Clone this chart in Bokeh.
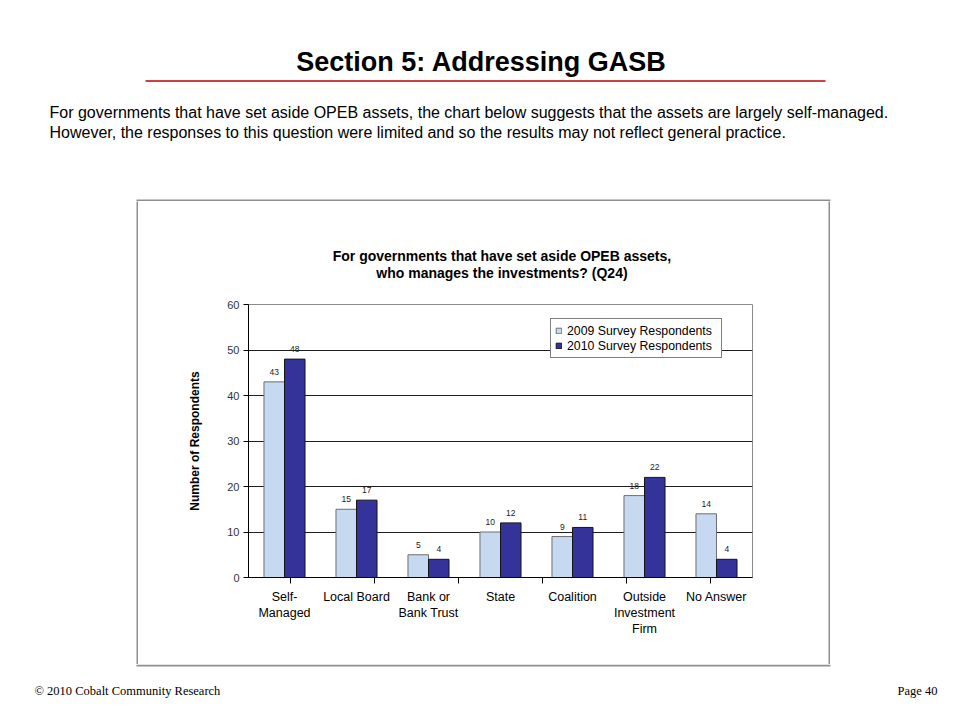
from bokeh.plotting import figure
from bokeh.models import (ColumnDataSource, FactorRange, Range1d, Label, LabelSet,
                          Legend, LegendItem, FixedTicker, CategoricalAxis, Spacer)
from bokeh.layouts import column, row
from bokeh.transform import dodge
from bokeh.embed import file_html
from bokeh.resources import INLINE
from bokeh.core.properties import value

# ---------------- data ----------------
categories = ["Self-\nManaged", "Local Board", "Bank or\nBank Trust", "State",
              "Coalition", "Outside\nInvestment\nFirm", "No Answer"]
resp_2009 = [43, 15, 5, 10, 9, 18, 14]
resp_2010 = [48, 17, 4, 12, 11, 22, 4]
y_ticks = [0, 10, 20, 30, 40, 50, 60]
series_names = ["2009 Survey Respondents", "2010 Survey Respondents"]

page_title = "Section 5: Addressing GASB"
intro_lines = [
    "For governments that have set aside OPEB assets, the chart below suggests that the assets are largely self-managed.",
    "However, the responses to this question were limited and so the results may not reflect general practice.",
]
chart_title_lines = ["For governments that have set aside OPEB assets,",
                     "who manages the investments? (Q24)"]
y_axis_title = "Number of Respondents"
footer_left = "\u00a9 2010 Cobalt Community Research"
footer_right = "Page 40"

# ---------------- layout constants (page pixels) ----------------
PAGE_W = 960
BOX_L, BOX_T, BOX_R, BOX_B = 136, 201, 830, 664   # outer chart box
EDGE = 2                                          # box line thickness
TITLE_B = 286                                     # bottom of chart-title strip
FL, FT, FR, FB = 248, 304, 752, 577               # plot frame
FOOT_H = 46
SANS = "Liberation Sans"
SERIF = "Liberation Serif"
BOX_COLOR = "#8f8f8f"


def deco_fig(w, h, fill="white"):
    f = figure(width=w, height=h, x_range=Range1d(0, w), y_range=Range1d(h, 0),
               output_backend="svg", toolbar_location=None,
               x_axis_location=None, y_axis_location=None, title_location=None,
               min_border_left=0, min_border_right=0, min_border_top=0, min_border_bottom=0)
    f.outline_line_color = None
    f.background_fill_color = fill
    f.border_fill_color = fill
    f.grid.visible = False
    return f


# ---------------- top: title, rule, intro text, box top edge ----------------
top = deco_fig(PAGE_W, BOX_T)
top.add_layout(Label(x=481, y=61, text=page_title, text_font=SANS, text_font_style="bold",
                     text_font_size="27px", text_color="black",
                     text_align="center", text_baseline="middle"))
top.segment(x0=[145], y0=[80.5], x1=[825], y1=[80.5], line_color="#C00000", line_width=1.3)
for i, line in enumerate(intro_lines):
    top.add_layout(Label(x=49, y=111.5 + 20 * i, text=line, text_font=SANS,
                         text_font_size="16px", text_color="black",
                         text_align="left", text_baseline="middle"))
top.segment(x0=[BOX_L], y0=[BOX_T - 1], x1=[BOX_R], y1=[BOX_T - 1],
            line_color=BOX_COLOR, line_width=EDGE)

# ---------------- middle ----------------
mid_h = BOX_B - BOX_T
inner_w = BOX_R - BOX_L - 2 * EDGE
inner_l = BOX_L + EDGE

# chart title strip
tfig = deco_fig(inner_w, TITLE_B - BOX_T)
for i, line in enumerate(chart_title_lines):
    tfig.add_layout(Label(x=485 - inner_l, y=255 + 17 * i - BOX_T, text=line, text_font=SANS,
                          text_font_style="bold", text_font_size="14px", text_color="black",
                          text_align="center", text_baseline="middle"))

# chart
p = figure(x_range=FactorRange(factors=categories), y_range=Range1d(0, 60),
           width=inner_w, height=BOX_B - TITLE_B, output_backend="svg",
           toolbar_location=None, x_axis_location=None, title_location=None,
           min_border_left=FL - inner_l, min_border_right=BOX_R - EDGE - FR,
           min_border_top=FT - TITLE_B, min_border_bottom=BOX_B - FB)
p.background_fill_color = "white"
p.border_fill_color = "white"
p.outline_line_color = "#8c8c8c"
p.outline_line_width = 1

yax = p.yaxis[0]
yax.ticker = FixedTicker(ticks=y_ticks)
yax.minor_tick_line_color = None
yax.major_tick_in = 0
yax.major_tick_out = 5
yax.major_tick_line_color = "black"
yax.axis_line_color = "black"
yax.major_label_text_font = SANS
yax.major_label_text_font_size = "11px"
yax.major_label_text_color = "#333333"
yax.major_label_standoff = 4
yax.axis_label = y_axis_title
yax.axis_label_text_font = SANS
yax.axis_label_text_font_style = "bold"
yax.axis_label_text_font_size = "12px"
yax.axis_label_text_color = "black"
yax.axis_label_standoff = 22

for g in p.ygrid:
    g.ticker = FixedTicker(ticks=y_ticks)
    g.grid_line_color = "#1e1e1e"
    g.grid_line_width = 1
for g in p.xgrid:
    g.visible = False

# bottom axes: boundary ticks (between categories) + category labels
boundaries = ["edge%d" % i for i in range(len(categories) + 1)]
p.extra_x_ranges = {"edges": FactorRange(factors=boundaries, range_padding=-1,
                                         range_padding_units="absolute")}
tick_axis = CategoricalAxis(x_range_name="edges",
                            major_label_text_font_size="0px", major_label_standoff=0,
                            major_label_text_color=None,
                            axis_line_color="black", major_tick_line_color="black",
                            major_tick_out=6, major_tick_in=0)
cat_axis = CategoricalAxis(major_tick_line_color=None, axis_line_color=None,
                           major_tick_out=0, major_tick_in=0,
                           major_label_text_font=SANS, major_label_text_font_size="12.5px",
                           major_label_text_color="black",
                           major_label_text_line_height=1.15,
                           major_label_standoff=6)
p.add_layout(tick_axis, "below")
p.add_layout(cat_axis, "below")

src = ColumnDataSource(dict(cat=categories, v09=resp_2009, v10=resp_2010,
                            t09=[str(v) for v in resp_2009],
                            t10=[str(v) for v in resp_2010]))
bw = 0.285
r1 = p.vbar(x=dodge("cat", -bw / 2, range=p.x_range), top="v09", width=bw, source=src,
            fill_color="#C6D9F1", line_color="#6e6e6e", line_width=1)
r2 = p.vbar(x=dodge("cat", bw / 2, range=p.x_range), top="v10", width=bw, source=src,
            fill_color="#333399", line_color="#151515", line_width=1)

for col, ycol, off in (("t09", "v09", -bw / 2), ("t10", "v10", bw / 2)):
    p.add_layout(LabelSet(x=dodge("cat", off, range=p.x_range), y=ycol, text=col, source=src,
                          text_font=value(SANS), text_font_size=value("8.5px"),
                          text_color="#222222", text_align="center",
                          text_baseline="bottom", y_offset=7))

legend = Legend(items=[LegendItem(label=series_names[0], renderers=[r1]),
                       LegendItem(label=series_names[1], renderers=[r2])],
                location=(550 - FL, FB - 358), orientation="vertical",
                border_line_color="black", border_line_width=1,
                background_fill_color="white", background_fill_alpha=1,
                label_text_font=SANS, label_text_font_size="12.3px",
                label_text_color="black",
                glyph_width=7, glyph_height=7, label_standoff=5,
                label_height=15, label_width=150, spacing=0, padding=4, margin=0)
p.add_layout(legend)

left_edge = deco_fig(EDGE, mid_h, fill=BOX_COLOR)
right_edge = deco_fig(EDGE, mid_h, fill=BOX_COLOR)
middle = row(Spacer(width=BOX_L, height=mid_h), left_edge,
             column(tfig, p, spacing=0), right_edge,
             Spacer(width=PAGE_W - BOX_R, height=mid_h), spacing=0)

# ---------------- bottom: box bottom edge and footer ----------------
foot = deco_fig(PAGE_W, FOOT_H)
foot.segment(x0=[BOX_L], y0=[1], x1=[BOX_R], y1=[1], line_color=BOX_COLOR, line_width=EDGE)
foot.add_layout(Label(x=34, y=690 - BOX_B, text=footer_left, text_font=SERIF,
                      text_font_size="12.5px", text_color="black",
                      text_align="left", text_baseline="middle"))
foot.add_layout(Label(x=937, y=690 - BOX_B, text=footer_right, text_font=SERIF,
                      text_font_size="12.5px", text_color="black",
                      text_align="right", text_baseline="middle"))

page = column(top, middle, foot, spacing=0)

open("out.html", "w").write(file_html(page, INLINE))
